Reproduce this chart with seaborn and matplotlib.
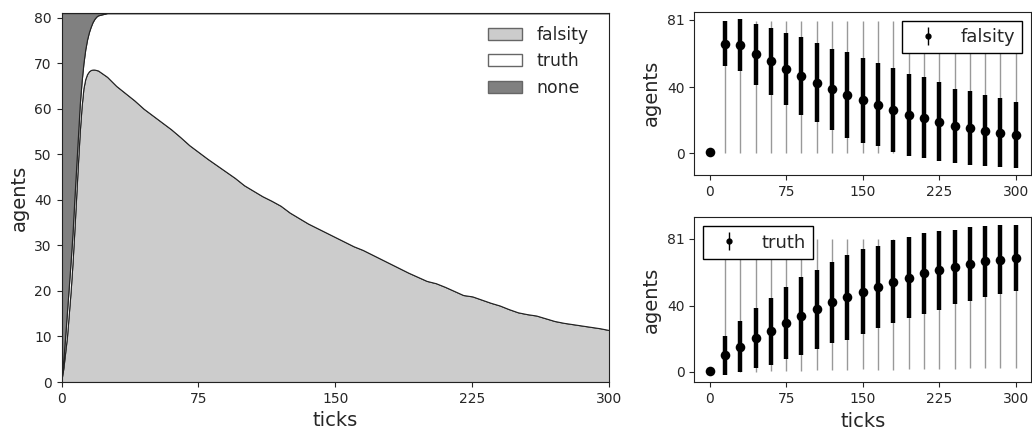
import numpy as np
import matplotlib
matplotlib.use("Agg")
import matplotlib.pyplot as plt
import seaborn as sns
from matplotlib.patches import Patch

sns.set_style("ticks")
plt.rcParams['font.family'] = ['DejaVu Sans']

# ---------------- left: stacked population (single run) ----------------
ticks = [0, 1, 2, 3, 4, 5, 6, 7, 8, 9, 10, 11, 12, 13, 14, 15, 16, 17, 18, 19, 20,
         25, 30, 35, 40, 45, 50, 55, 60, 65, 70, 75, 80, 85, 90, 95, 100,
         105, 110, 115, 120, 125, 130, 135, 140, 145, 150, 155, 160, 165, 170,
         175, 180, 185, 190, 195, 200, 205, 210, 215, 220, 225, 230, 235, 240,
         245, 250, 255, 260, 265, 270, 275, 280, 285, 290, 295, 300]
falsity = [0.5, 3, 6.5, 10, 15, 20, 26, 33, 40.5, 48, 55, 60.5, 64.5, 66.5, 67.6, 68.2, 68.5, 68.6, 68.6, 68.5, 68.4,
           67.0, 65.0, 63.4, 61.8, 60.0, 58.5, 57.0, 55.5, 53.8, 52.0, 50.5, 49.0, 47.6, 46.2, 44.8, 43.2,
           42.0, 40.8, 39.8, 38.7, 37.2, 36.0, 34.8, 33.8, 32.8, 31.8, 30.8, 29.8, 29.0, 28.0,
           27.0, 26.0, 25.0, 24.0, 23.1, 22.2, 21.7, 20.9, 20.0, 19.1, 18.8, 18.1, 17.4, 16.8,
           16.0, 15.3, 14.9, 14.6, 14.0, 13.4, 13.0, 12.7, 12.4, 12.1, 11.8, 11.4]
truth = [0.5, 2, 3.5, 5.5, 6, 6.5, 6.5, 7, 6.5, 6, 6, 5.5, 5.5, 6.5, 7.6, 8.6, 9.5, 10.4, 11.1, 11.7, 12.1,
         14.0, 16.0, 17.6, 19.2, 21.0, 22.5, 24.0, 25.5, 27.2, 29.0, 30.5, 32.0, 33.4, 34.8, 36.2, 37.8,
         39.0, 40.2, 41.2, 42.3, 43.8, 45.0, 46.2, 47.2, 48.2, 49.2, 50.2, 51.2, 52.0, 53.0,
         54.0, 55.0, 56.0, 57.0, 57.9, 58.8, 59.3, 60.1, 61.0, 61.9, 62.2, 62.9, 63.6, 64.2,
         65.0, 65.7, 66.1, 66.4, 67.0, 67.6, 68.0, 68.3, 68.6, 68.9, 69.2, 69.6]
none = [80, 76, 71, 65.5, 60, 54.5, 48.5, 41, 34, 27, 20, 15, 11, 8, 5.8, 4.2, 3, 2, 1.3, 0.8, 0.5,
        0, 0, 0, 0, 0, 0, 0, 0, 0, 0, 0, 0, 0, 0, 0, 0,
        0, 0, 0, 0, 0, 0, 0, 0, 0, 0, 0, 0, 0, 0,
        0, 0, 0, 0, 0, 0, 0, 0, 0, 0, 0, 0, 0, 0,
        0, 0, 0, 0, 0, 0, 0, 0, 0, 0, 0, 0]
series_names = ["falsity", "truth", "none"]
series_colors = ["#cccccc", "#ffffff", "#808080"]

# ---------------- right: sampled statistics over runs ----------------
sample_ticks = [0, 15, 30, 45, 60, 75, 90, 105, 120, 135, 150, 165, 180, 195, 210, 225, 240, 255, 270, 285, 300]
fal_mean = [0.5, 66.4, 65.6, 60.0, 55.6, 50.8, 46.8, 42.6, 38.6, 35.2, 32.2, 29.4, 26.2, 23.2, 21.4, 19.0, 16.6, 15.2, 13.6, 12.4, 11.2]
fal_std = [0, 13.5, 15.7, 18.5, 20.2, 21.8, 23.5, 24.0, 24.5, 25.9, 25.8, 25.1, 25.7, 25.0, 24.6, 23.9, 22.5, 22.3, 21.6, 21.0, 20.0]
fal_min = [0.5, 0, 0, 0, 0, 0, 0, 0, 0, 0, 0, 0, 0, 0, 0, 0, 0, 0, 0, 0, 0]
fal_max = [0.5, 80, 80, 80, 80, 80, 80, 80, 80, 80, 80, 80, 80, 80, 80, 80, 80, 80, 80, 80, 80]
tru_mean = [0.5, 10.0, 15.1, 20.6, 24.7, 29.8, 33.9, 38.0, 42.2, 45.3, 48.6, 51.6, 54.7, 57.3, 59.8, 61.6, 63.7, 65.5, 67.1, 68.2, 69.0]
tru_std = [0, 11.9, 15.5, 18.4, 20.4, 22.0, 23.5, 24.0, 24.5, 25.8, 25.8, 25.1, 25.3, 24.8, 24.7, 23.8, 22.6, 22.3, 21.8, 21.2, 20.0]
tru_min = [0.5, 0, 0, 0, 0.5, 0.5, 0.5, 1, 1, 1, 1.5, 1, 1, 1.5, 1.5, 1.5, 1.5, 2, 2, 2, 2.5]
tru_max = [0.5, 81, 81, 81, 81, 81, 81, 81, 81, 81, 81, 81, 81, 81, 81, 81, 81, 81, 81, 81, 81]

fig = plt.figure(figsize=(10.32, 4.32), dpi=100)
ax = fig.add_axes([0.0596, 0.1157, 0.5308, 0.854])
axt = fig.add_axes([0.6728, 0.5949, 0.3263, 0.378])
axb = fig.add_axes([0.6728, 0.1150, 0.3263, 0.382])

# left stackplot
ax.stackplot(ticks, falsity, truth, none, colors=series_colors,
             edgecolor="#222222", linewidth=0.8)
ax.set_xlim(0, 300)
ax.set_ylim(0, 81)
ax.set_xticks([0, 75, 150, 225, 300])
ax.set_yticks(range(0, 81, 10))
ax.set_xlabel("ticks", fontsize=14)
ax.set_ylabel("agents", fontsize=14)
ax.tick_params(labelsize=10)
handles = [Patch(facecolor=c, edgecolor="#666666", linewidth=1) for c in series_colors]
ax.legend(handles, series_names, loc="upper right", frameon=False, fontsize=12.4,
          bbox_to_anchor=(0.99, 1.008))

def draw_stats(a, xs, mean, std, mn, mx, label, loc):
    xs = np.asarray(xs)
    mean = np.asarray(mean)
    a.vlines(xs, mn, mx, colors="#999999", linewidth=1.0, zorder=1)
    a.errorbar(xs, mean, yerr=std, fmt="none", ecolor="black", elinewidth=3.2, zorder=2)
    sns.scatterplot(x=xs, y=mean, ax=a, color="black", s=48, edgecolor="black",
                    linewidth=0, zorder=3, legend=False)
    a.errorbar([np.nan], [np.nan], yerr=[1], fmt="o", color="black", ms=3.5,
               elinewidth=1.0, label=label)
    leg = a.legend(loc=loc, fontsize=13, fancybox=False, framealpha=1,
                   edgecolor="black", borderaxespad=0.5)
    leg.get_frame().set_linewidth(1.0)
    a.set_xticks([0, 75, 150, 225, 300])
    a.set_yticks([0, 40, 81])
    a.set_ylabel("agents", fontsize=14)
    a.tick_params(labelsize=10)
    a.margins(x=0.05, y=0.05)

draw_stats(axt, sample_ticks, fal_mean, fal_std, fal_min, fal_max, "falsity", "upper right")
draw_stats(axb, sample_ticks, tru_mean, tru_std, tru_min, tru_max, "truth", "upper left")
axb.set_xlabel("ticks", fontsize=14)

for a in (ax, axt, axb):
    for s in a.spines.values():
        s.set_color("#222222")

fig.savefig("out.png", dpi=100)
